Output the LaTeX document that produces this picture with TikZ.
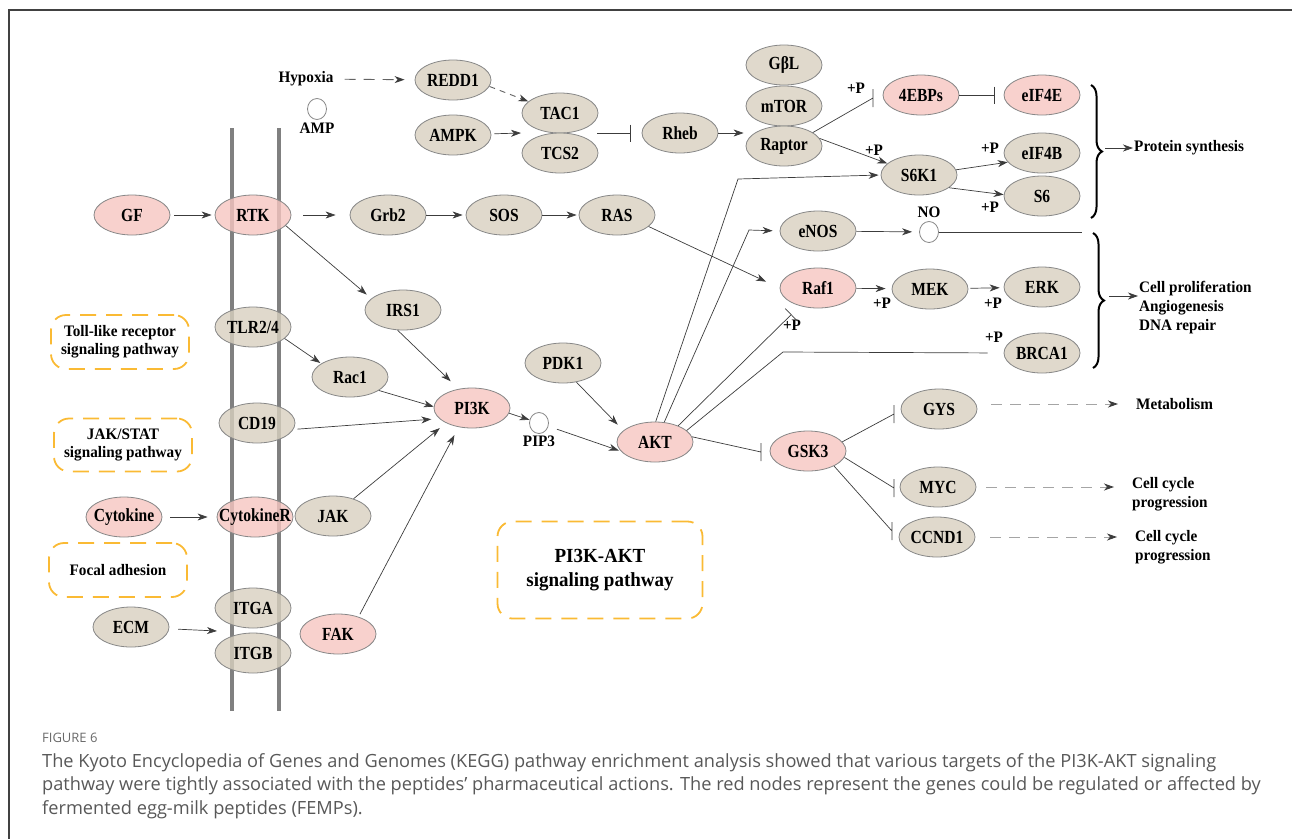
\documentclass[tikz,border=0pt]{standalone}
\usepackage{fontspec}
\setmainfont{Liberation Serif}
\newfontfamily\genefont[FakeStretch=0.84]{Liberation Serif}
\newfontfamily\lblfont[FakeStretch=0.95]{Liberation Serif}
\newfontfamily\capfont{Open Sans}
\usetikzlibrary{arrows.meta,shapes.geometric,decorations.pathreplacing,positioning}
\definecolor{genetan}{RGB}{216,208,191}
\definecolor{genered}{RGB}{246,197,192}
\definecolor{edgegray}{RGB}{135,135,135}
\definecolor{linkgray}{RGB}{60,60,60}
\definecolor{dashgray}{RGB}{165,165,165}
\definecolor{membgray}{RGB}{128,128,128}
\definecolor{boxorange}{RGB}{250,186,52}
\definecolor{capgray}{RGB}{88,88,88}
\definecolor{framegray}{RGB}{65,65,65}
\begin{document}
\begin{tikzpicture}[x=1pt,y=-1pt,
	gene/.style={ellipse,draw=edgegray,line width=0.8pt,fill=genetan,fill opacity=0.8,text opacity=1,
		minimum width=76pt,minimum height=40pt,inner xsep=-16pt,inner ysep=0pt,
		font=\genefont\bfseries\fontsize{18.5}{20}\selectfont},
	hit/.style={gene,fill=genered},
	molec/.style={ellipse,draw=edgegray,line width=0.8pt,fill=white,minimum width=19pt,minimum height=21pt,inner sep=0pt},
	lbl/.style={font=\lblfont\bfseries\fontsize{16}{19}\selectfont,inner sep=1pt},
	outtxt/.style={lbl,anchor=west,align=left},
	pathbox/.style={draw=boxorange,line width=1.8pt,dash pattern=on 16pt off 10pt,rounded corners=15pt,align=center,
		font=\lblfont\bfseries\fontsize{16}{18.3}\selectfont},
	conn/.style={draw=linkgray,line width=0.7pt},
	act/.style={conn,-{Stealth[length=10pt,width=7pt,inset=3pt]}},
	inh/.style={conn,-{Bar[width=17pt]}},
	inhv/.style={conn,to path={-- (\tikztotarget) +(0,-9) -- +(0,9)}},
	dshact/.style={draw=dashgray,line width=0.9pt,dash pattern=on 11pt off 8pt,
		-{Stealth[length=10pt,width=7pt,inset=3pt,color=linkgray]}},
	brc/.style={line width=2pt,decorate,decoration={brace,amplitude=11pt}}]
\useasboundingbox (0,0) rectangle (1292,839);
\draw[line width=2.5pt,draw=framegray] (1292,10) -- (9,10) -- (9,839);
% membrane
\draw[line width=4pt,draw=membgray] (232,128) -- (232,711);
\draw[line width=4pt,draw=membgray] (279,128) -- (279,711);

% mTOR branch
\node[lbl] (hypoxia) at (306,79) {Hypoxia};
\node[molec,label={[lbl,label distance=2pt]below:AMP}] (amp) at (317,109) {};
\node[gene] (redd) at (453,80) {REDD1};
\node[gene] (ampk) at (453,135) {AMPK};
\node[gene] (tac1) at (560,113) {TAC1};
\node[gene] (tcs2) at (560,153) {TCS2};
\node[gene] (rheb) at (680,133) {Rheb};
\node[gene] (gbl) at (784,65) {GβL};
\node[gene] (mtor) at (784,106) {mTOR};
\node[gene] (raptor) at (784,146) {Raptor};
\node[hit] (ebp) at (921,95) {4EBPs};
\node[hit] (eif4e) at (1042,95) {eIF4E};
\node[gene] (s6k1) at (919,175) {S6K1};
\node[gene] (eif4b) at (1042,153) {eIF4B};
\node[gene] (s6) at (1042,196) {S6};

% RTK / MAPK row
\node[hit] (gf) at (132,215) {GF};
\node[hit] (rtk) at (253,215) {RTK};
\node[gene] (grb2) at (388,215) {Grb2};
\node[gene] (sos) at (504,215) {SOS};
\node[gene] (ras) at (617,215) {RAS};
\node[gene] (enos) at (818,231) {eNOS};
\node[molec,label={[lbl,label distance=2pt]above:NO}] (no) at (929,232) {};
\node[hit] (raf1) at (818,288) {Raf1};
\node[gene] (mek) at (930,289) {MEK};
\node[gene] (erk) at (1042,287) {ERK};
\node[gene] (brca1) at (1042,353) {BRCA1};

% PI3K inputs
\node[gene] (irs1) at (403,310) {IRS1};
\node[gene] (tlr) at (253,327) {TLR2/4};
\node[gene] (rac1) at (350,377) {Rac1};
\node[hit] (pi3k) at (472,408) {PI3K};
\node[gene] (cd19) at (257,423) {CD19};
\node[molec,label={[lbl,label distance=1pt]below:PIP3}] (pip3) at (539,423) {};
\node[gene] (pdk1) at (563,363) {PDK1};
\node[hit] (akt) at (655,442) {AKT};
\node[hit] (cyto) at (124,517) {Cytokine};
\node[hit] (cytor) at (255,517) {CytokineR};
\node[gene] (jak) at (333,516) {JAK};
\node[gene] (ecm) at (131,627) {ECM};
\node[gene] (itga) at (253,608) {ITGA};
\node[gene] (itgb) at (253,653) {ITGB};
\node[hit] (fak) at (338,634) {FAK};

% GSK3 targets
\node[hit] (gsk3) at (808,451) {GSK3};
\node[gene] (gys) at (939,409) {GYS};
\node[gene] (myc) at (938,487) {MYC};
\node[gene] (ccnd1) at (937,537) {CCND1};

% +P marks
\node[lbl] (pa) at (856,88) {+P};
\node[lbl] (pb) at (874,150) {+P};
\node[lbl] (pc) at (990,148) {+P};
\node[lbl] (pd) at (990,207) {+P};
\node[lbl] (pe) at (882,303) {+P};
\node[lbl] (pf) at (993,303) {+P};
\node[lbl] (pg) at (792,325) {+P};
\node[lbl] (ph) at (994,337) {+P};

% outcomes
\node[outtxt] (prot) at (1133,148) {Protein synthesis};
\node[outtxt] (prolif) at (1138,308) {Cell proliferation\\Angiogenesis\\DNA repair};
\node[outtxt] (metab) at (1135,404) {Metabolism};
\node[outtxt] (cc1) at (1131,494) {Cell cycle\\progression};
\node[outtxt] (cc2) at (1134,547) {Cell cycle\\progression};

% pathway boxes
\node[pathbox,minimum width=138pt,minimum height=54pt] (toll) at (120,342) {Toll-like receptor\\signaling pathway};
\node[pathbox,minimum width=138pt,minimum height=53pt] (jakstat) at (123,445) {JAK/STAT\\signaling pathway};
\node[pathbox,minimum width=138pt,minimum height=54pt] (focal) at (118,570) {Focal adhesion};
\node[pathbox,minimum width=205pt,minimum height=97pt,font=\lblfont\bfseries\fontsize{20}{23.7}\selectfont] (pathmain) at (600,570) {PI3K-AKT\\signaling pathway};

% free ends and bends
\coordinate (tcin) at (521,133);
\coordinate (tcout) at (597,133);
\coordinate (ebpbar) at (873,98);
\coordinate (kb1) at (738,179);
\coordinate (kb2) at (749,230);
\coordinate (kb3) at (783,352);
\coordinate (noend) at (1082,232);
\coordinate (itgin) at (217,631);
\coordinate (gskbar) at (761,452);
\coordinate (gysbar) at (894,414);
\coordinate (mycbar) at (894,488);
\coordinate (ccbar) at (892,531);
\coordinate (br1) at (1105,148);
\coordinate (br2) at (1109,296);

\draw[dshact,draw=linkgray!80,shorten <=10pt,shorten >=10pt] (hypoxia) -- (redd);
\draw[dshact,draw=linkgray!80,dash pattern=on 6pt off 5pt] (redd.-10) -- (tac1.160);
\draw[act,shorten <=3pt] (ampk) -- (tcin);
\draw[inh,shorten >=11pt] (tcout) -- (rheb);
\draw[act,shorten >=2pt] (rheb) -- (rheb.east -| raptor.west);
\draw[inhv] (raptor.25) to (ebpbar);
\draw[inh,shorten >=9pt] (ebp) -- (eif4e);
\draw[act] (raptor.12) -- (s6k1.160);
\draw[act] (s6k1.8) -- (eif4b.195);
\draw[act] (s6k1.-23) -- (s6.178);

\draw[act,shorten <=4pt,shorten >=3pt] (gf) -- (rtk);
\draw[act,shorten <=12pt,shorten >=14pt] (rtk) -- (grb2);
\draw[act,shorten >=3pt] (grb2) -- (sos);
\draw[act,shorten >=2pt] (sos) -- (ras);
\draw[act,shorten >=15pt] (ras.-20) -- (raf1.west);
\draw[act,shorten >=6pt] (raf1) -- (mek);
\draw[act,shorten <=2pt,shorten >=4pt] (mek) -- (erk);
\draw[act,shorten >=7pt] (enos) -- (no);
\draw[conn] (no) -- (noend);

% AKT outputs
\draw[act,shorten >=2pt] (akt.88) -- (kb1) -- (s6k1.west);
\draw[act,shorten >=7pt] (akt.65) -- (kb2) -- (enos.west);
\draw[inh,shorten >=12pt] (akt.35) -- (raf1.225);
\draw[conn,shorten >=16pt] (akt.20) -- (kb3) -- (brca1.west);
\draw[inhv] (akt.8) to (gskbar);
\draw[inhv] (gsk3.15) to (gysbar);
\draw[inhv] (gsk3.-10) to (mycbar);
\draw[inhv] (gsk3.-30) to (ccbar);

% into PI3K
\draw[act,shorten >=6pt] (rtk.-18) -- (irs1.160);
\draw[act,shorten >=11pt] (irs1.-105) -- (pi3k.125);
\draw[act,shorten >=1pt] (tlr.-20) -- (rac1.155);
\draw[act] (rac1.-25) -- (pi3k.178);
\draw[act,shorten <=4pt,shorten >=8pt] (cd19.-10) -- (pi3k.198);
\draw[act,shorten >=8pt] (jak.40) -- (pi3k.210);
\draw[act,shorten <=3pt,shorten >=9pt] (fak.40) -- (pi3k.235);
\draw[act,shorten <=8pt,shorten >=9pt] (cyto) -- (cytor);
\draw[act,shorten <=9pt] (ecm) -- (itgin);
\draw[act] (pi3k.-8) -- (pip3);
\draw[act,shorten <=9pt,shorten >=2pt] (pip3) -- (akt.195);
\draw[act,shorten >=8pt] (pdk1.-55) -- (akt.160);

% outcomes
\draw[brc] (1091,85) -- (1091,218);
\draw[brc] (1093,233) -- (1093,368);
\draw[act] (br1) -- (prot.west);
\draw[act] (br2) -- (br2 -| prolif.west);
\draw[dshact,shorten <=14pt,shorten >=17pt] (gys.east |- metab.west) -- (metab.west);
\draw[dshact,shorten <=10pt,shorten >=17pt] (myc.east) -- (myc.east -| cc1.west);
\draw[dshact,shorten <=15pt,shorten >=17pt] (ccnd1.east) -- (ccnd1.east -| cc2.west);

% caption
\node[anchor=base west,inner sep=0pt,text=capgray!90,font=\capfont\fontsize{13}{15}\selectfont] (fig) at (42,742) {FIGURE 6};
\node[anchor=north west,inner sep=0pt,align=left,text=capgray,font=\capfont\fontsize{18.2}{23.5}\selectfont] (caption) at (42,753)
	{The Kyoto Encyclopedia of Genes and Genomes (KEGG) pathway enrichment analysis showed that various targets of the PI3K-AKT signaling\\
	pathway were tightly associated with the peptides’ pharmaceutical actions. The red nodes represent the genes could be regulated or affected by\\
	fermented egg-milk peptides (FEMPs).};
\end{tikzpicture}
\end{document}
